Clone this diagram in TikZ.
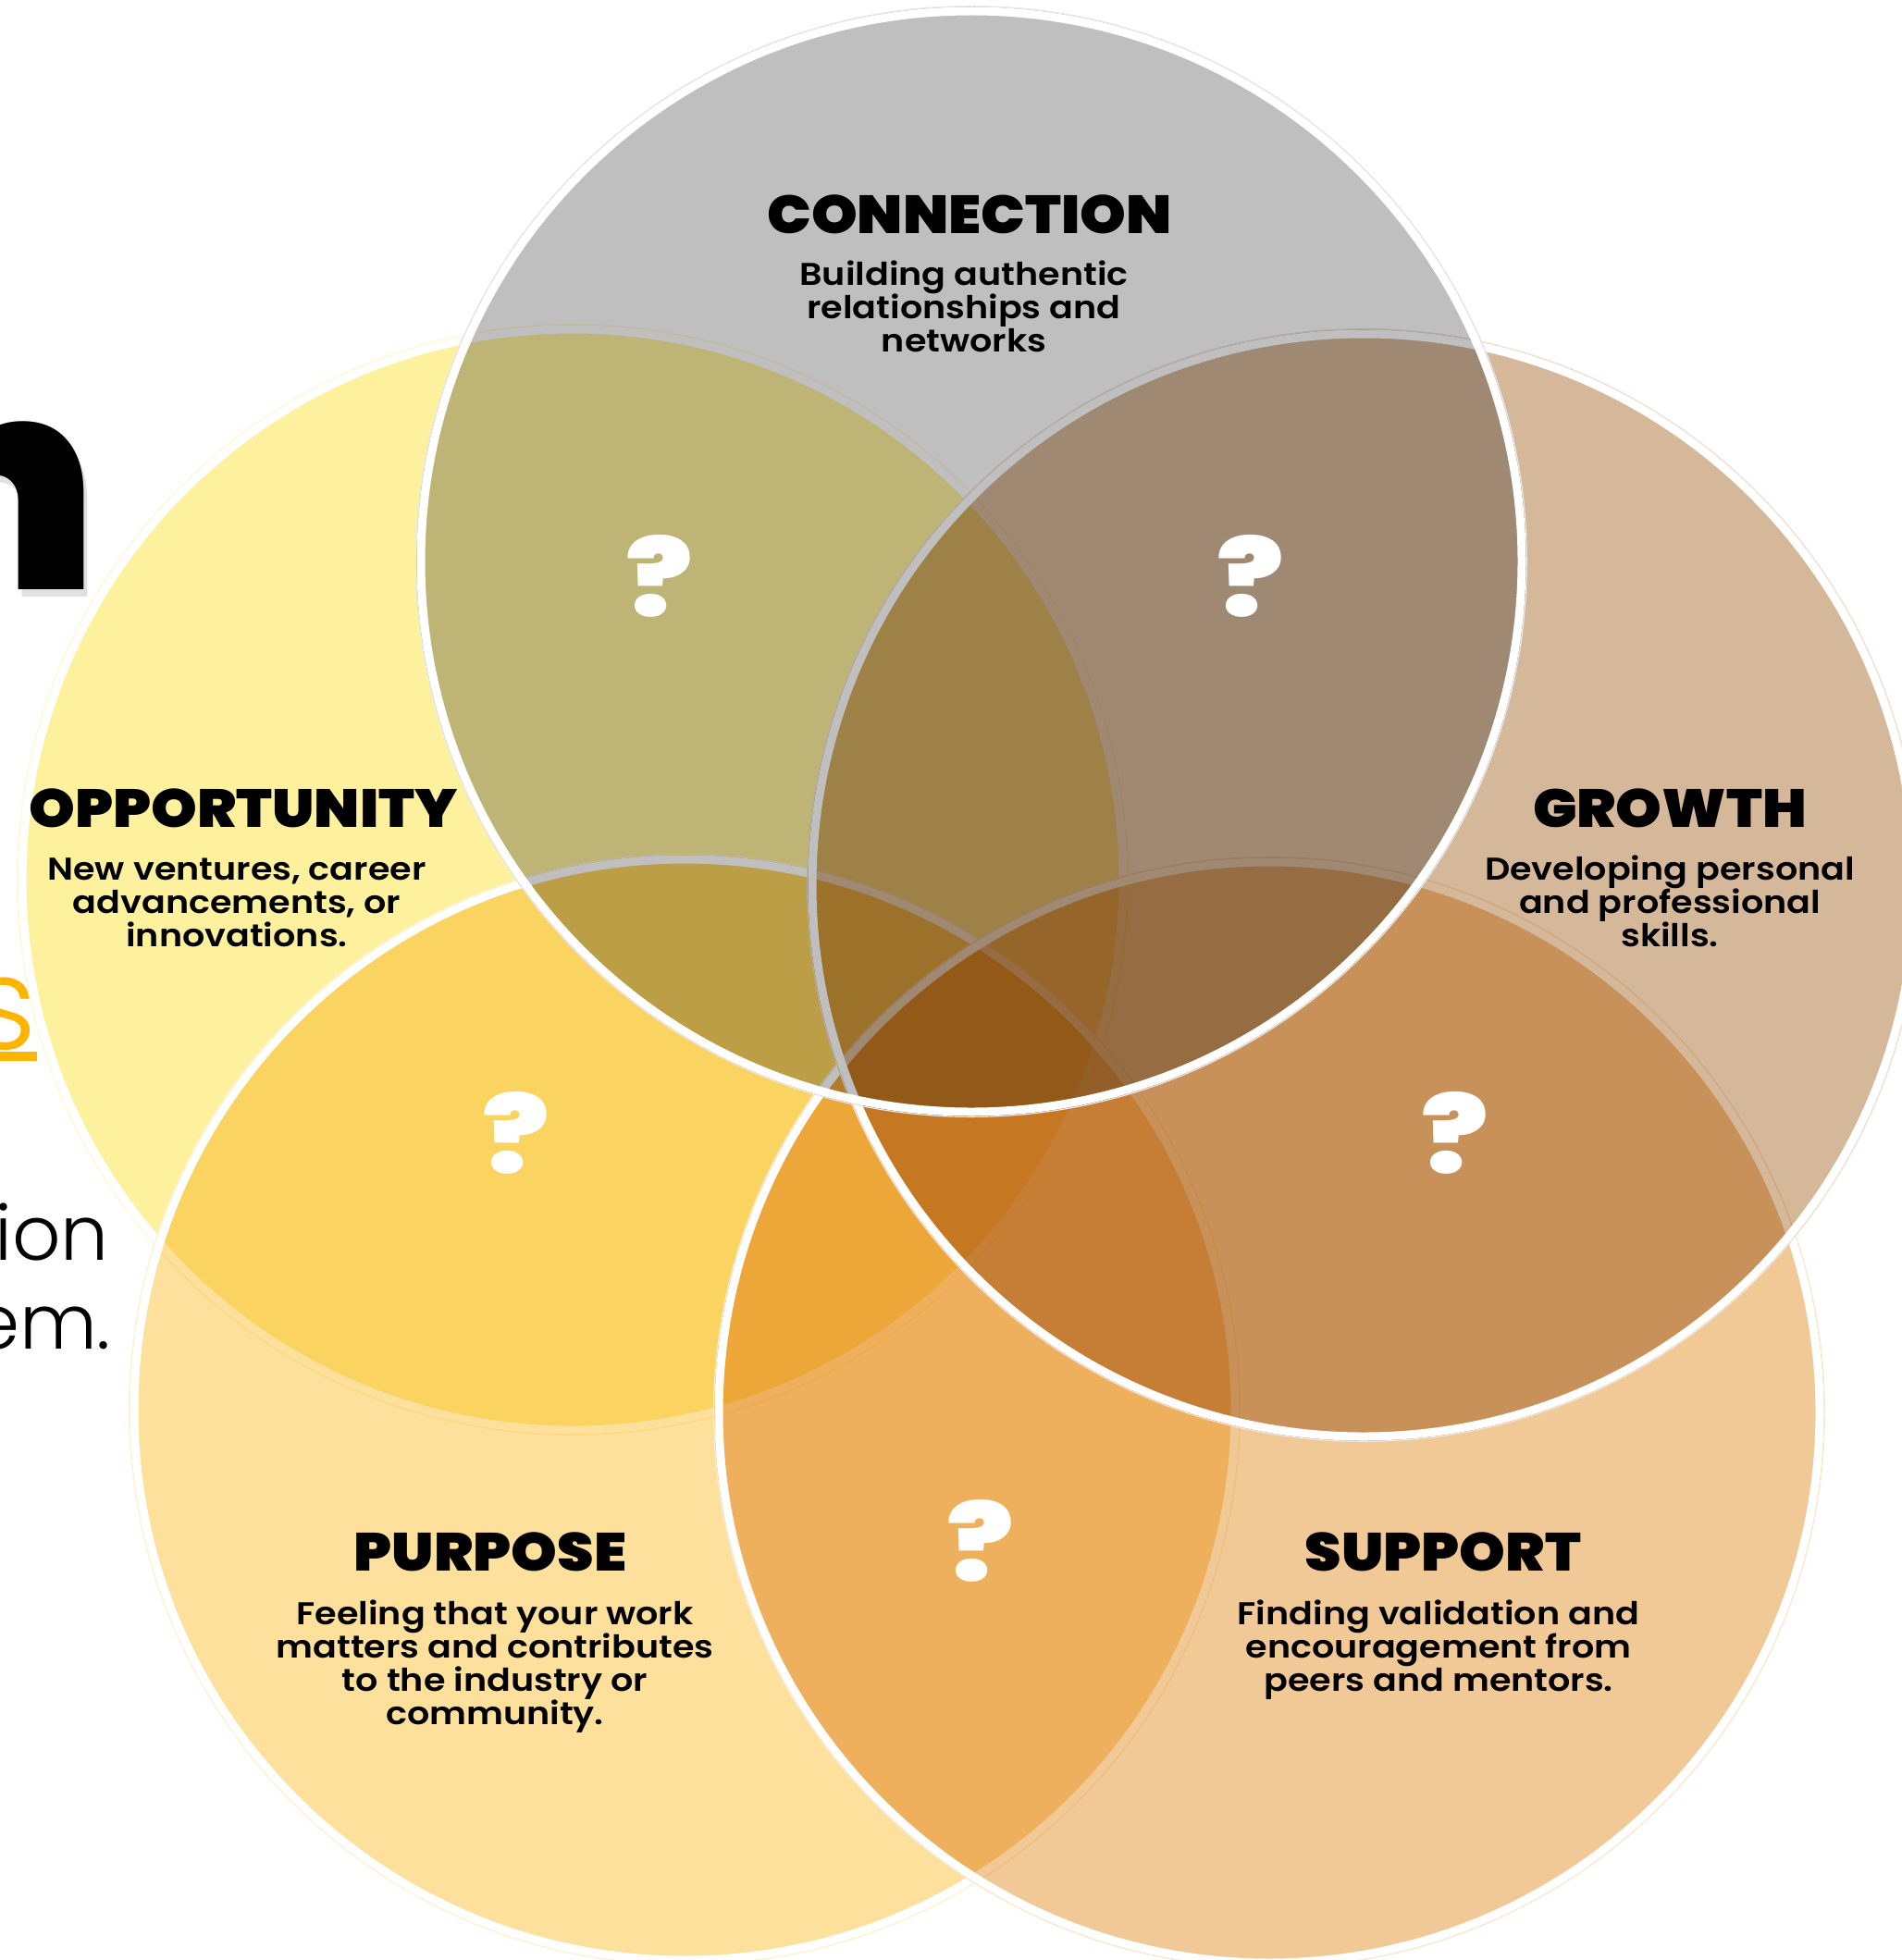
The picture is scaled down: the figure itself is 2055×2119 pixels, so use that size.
\documentclass[tikz,border=0pt]{standalone}
\usepackage{fontspec}
\setmainfont{Poppins}
\newfontfamily\heavy{Poppins Black}[FakeStretch=1.09]
\newfontfamily\qfont{Poppins Black}[FakeStretch=1.18]
\newfontfamily\bignfont{Poppins Black}
\newfontfamily\semi{Poppins SemiBold}[FakeStretch=1.12]
\newfontfamily\lightf{Poppins Light}
\definecolor{conn}{HTML}{BFBFBF}
\definecolor{opp}{HTML}{FEF19E}
\definecolor{grow}{HTML}{D5B899}
\definecolor{purp}{HTML}{FCE09C}
\definecolor{supp}{HTML}{F1C997}
\definecolor{orng}{HTML}{FFB400}
\newcommand\mylines[1]{\vtop{\baselineskip=36pt\lineskiplimit=-100pt\lineskip=0pt\halign{\hfil##\hfil\cr#1\crcr}}}
\tikzset{
  ttl/.style={font=\heavy\fontsize{58}{58}\selectfont, inner sep=0pt, anchor=base},
  bdy/.style={font=\semi\fontsize{34}{36}\selectfont, inner sep=0pt, anchor=base},
  qm/.style={font=\qfont\fontsize{114}{114}\selectfont, text=white, inner sep=0pt, anchor=center},
  vfill/.style={fill=#1, blend mode=multiply},
  vrim/.style={draw=#1!35, line width=1.2pt},
  vborder/.style={draw=white, line width=9pt},
}
\newcommand\venn[3]{%
  \fill[vfill=#2] (#1) circle[radius=#3pt];
  \draw[vrim=#2] (#1) circle[radius=#3pt+0.4pt];
  \draw[vborder] (#1) circle[radius=#3pt-5pt];
}
\begin{document}
\begin{tikzpicture}[x=1pt,y=-1pt]
\useasboundingbox (0,0) rectangle (2055,2119);
\fill[white] (0,0) rectangle (2055,2119);
% background slide text, cut off at the left
\node[font=\bignfont\fontsize{320}{320}\selectfont, text=black, opacity=0.12, inner sep=0pt, anchor=base east] (bnshadow) at (110,645) {n};
\node[font=\bignfont\fontsize{320}{320}\selectfont, inner sep=0pt, anchor=base east] (bn) at (106,637) {n};
\node[font=\lightf\fontsize{140}{140}\selectfont, text=orng, inner sep=0pt, anchor=base east] (bs) at (40,1134) {s};
\fill[orng] (0,1137) rectangle (40,1147);
\node[font=\lightf\fontsize{82}{82}\selectfont, inner sep=0pt, anchor=base east] (bion) at (118,1362) {ion};
\node[font=\lightf\fontsize{82}{82}\selectfont, inner sep=0pt, anchor=base east] (bem) at (120,1458) {em.};
% circles
\coordinate (cO) at (619,951);
\coordinate (cP) at (740,1524);
\coordinate (cS) at (1372,1527);
\coordinate (cG) at (1474,957);
\coordinate (cC) at (1050,607);
\venn{cO}{opp}{600}
\venn{cP}{purp}{600}
\venn{cS}{supp}{600}
\venn{cG}{grow}{601}
\venn{cC}{conn}{600}
% titles and texts
\node[ttl] (tC) at (1048,252) {CONNECTION};
\node[bdy] (bC) at (1042,308) {\mylines{Building authentic\cr relationships and\cr networks}};
\node[ttl] (tO) at (263,894) {OPPORTUNITY};
\node[bdy] (bO) at (256,951) {\mylines{New ventures, career\cr advancements, or\cr innovations.}};
\node[ttl] (tG) at (1805,894) {GROWTH};
\node[bdy] (bG) at (1805,951) {\mylines{Developing personal\cr and professional\cr skills.}};
\node[ttl] (tP) at (530,1698) {PURPOSE};
\node[bdy] (bP) at (535,1756) {\mylines{Feeling that your work\cr matters and contributes\cr to the industry or\cr community.}};
\node[ttl] (tS) at (1560,1698) {SUPPORT};
\node[bdy] (bS) at (1555,1756) {\mylines{Finding validation and\cr encouragement from\cr peers and mentors.}};
% question marks
\node[qm] (q1) at (713,623) {?};
\node[qm] (q2) at (1352,623) {?};
\node[qm] (q3) at (558,1225) {?};
\node[qm] (q4) at (1573,1225) {?};
\node[qm] (q5) at (1060,1666) {?};
\end{tikzpicture}
\end{document}
